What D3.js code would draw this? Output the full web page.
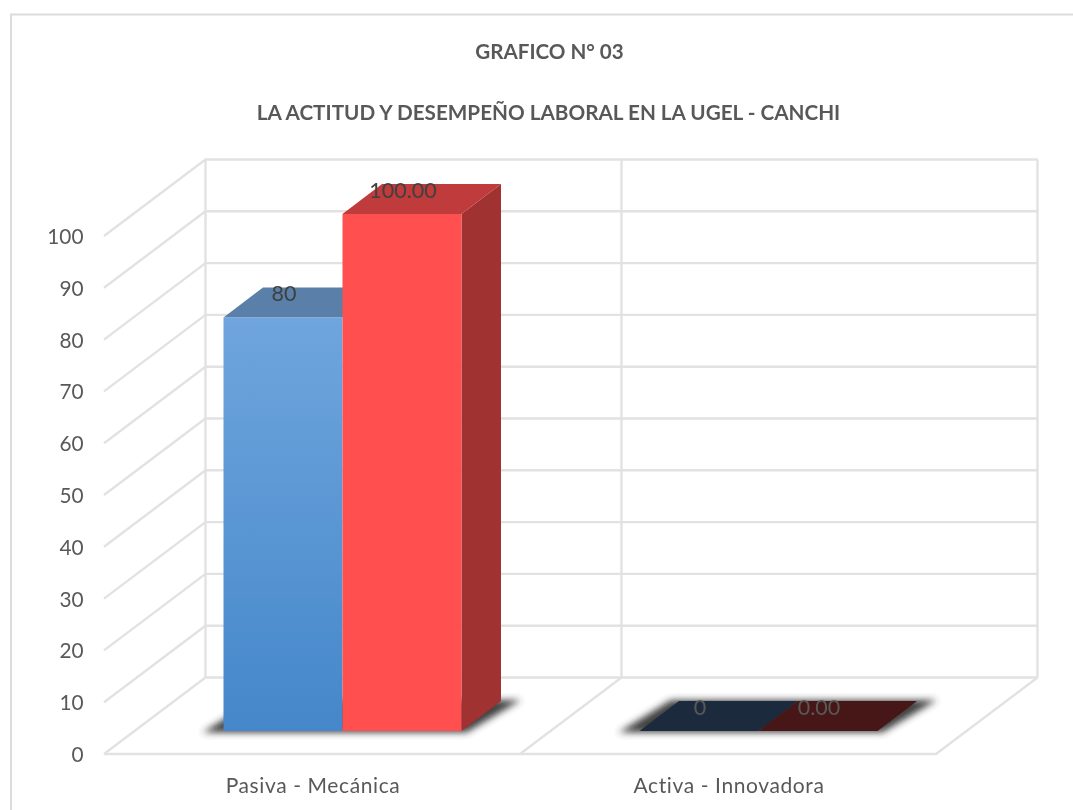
<!DOCTYPE html>
<html><head><meta charset="utf-8">
<script src="https://cdn.jsdelivr.net/npm/d3@7/dist/d3.min.js"></script>
<style>html,body{margin:0;padding:0;background:#fff}svg{display:block}text{font-family:Lato,"Open Sans",sans-serif}</style>
</head><body>
<svg id="c" width="1073" height="810"></svg>
<script>
const titleLines = ["GRAFICO N° 03", "LA ACTITUD Y DESEMPEÑO LABORAL EN LA UGEL - CANCHI"];
const categories = ["Pasiva - Mecánica", "Activa - Innovadora"];
const seriesA = [80, 0];
const seriesB = [100, 0];
const labelsA = ["80", "0"];
const labelsB = ["100.00", "0.00"];
const yTicks = [0,10,20,30,40,50,60,70,80,90,100];

const W = 1073, H = 810;
const svg = d3.select("#c").attr("viewBox", [0,0,W,H]);
const defs = svg.append("defs");
const gBlue = defs.append("linearGradient").attr("id","blueFront").attr("x1",0).attr("y1",0).attr("x2",0).attr("y2",1);
gBlue.append("stop").attr("offset",0).attr("stop-color","#6fa5dd");
gBlue.append("stop").attr("offset",1).attr("stop-color","#4487ca");
const sh = defs.append("filter").attr("id","shadow").attr("x","-20%").attr("y","-100%").attr("width","140%").attr("height","300%");
sh.append("feGaussianBlur").attr("stdDeviation",3.5);
const soft = defs.append("filter").attr("id","soft").attr("x","-5%").attr("y","-5%").attr("width","110%").attr("height","110%");
soft.append("feGaussianBlur").attr("stdDeviation",0.55);

// depth of the floor and of the bars
const wallDX = 101.5, wallDY = -76.5;
const barDX = 39.5, barDY = -30;

// scales
const yFront = d3.scaleLinear().domain([0,100]).range([754,236]);
const yBar = d3.scaleLinear().domain([0,100]).range([731,214]);
const xFront = d3.scaleBand().domain(categories).range([104,936]);
const series = d3.scaleBand().domain([0,1]).range([223.5,461.5]);

const root = svg.append("g").attr("filter","url(#soft)");

// chart border
root.append("path").attr("d","M11,810V14.5H1073").attr("fill","none").attr("stroke","#dcdcdc").attr("stroke-width",2);

// gridlines on walls
const grid = root.append("g").attr("fill","none").attr("stroke","#e2e2e2").attr("stroke-width",2.4);
const line = d3.line();
yTicks.forEach(t=>{
  const y=yFront(t);
  grid.append("path").attr("d",line([[xFront.range()[0],y],[xFront.range()[0]+wallDX,y+wallDY],[xFront.range()[1]+wallDX,y+wallDY]]));
});
// floor front edge and dividers
const edges = [xFront.range()[0], xFront(categories[1]), xFront.range()[1]];
const y0 = yFront(0), y100=yFront(100);
grid.append("path").attr("d",line([[edges[0],y0],[edges[2],y0],[edges[2]+wallDX,y0+wallDY]]));
grid.append("path").attr("d",line([[edges[1],y0],[edges[1]+wallDX,y0+wallDY]]));
edges.forEach(x=>{
  grid.append("path").attr("d",line([[x+wallDX,y0+wallDY],[x+wallDX,y100+wallDY]]));
});

// bars
const cols = [
 {vals:seriesA,labels:labelsA,front:"url(#blueFront)",top:"#5a7fa9",side:"#35618f",zero:"#1a2b3c"},
 {vals:seriesB,labels:labelsB,front:"#ff5050",top:"#c03a3a",side:"#a03030",zero:"#461716"}
];
const bars = root.append("g");
categories.forEach((c,ci)=>{
  const off = xFront(c)-xFront(categories[0]);
  const base = yBar(0);
  const L = series(0)+off, R = series(1)+series.bandwidth()+off;
  // floor shadow
  bars.append("path").attr("filter","url(#shadow)").attr("fill","#333").attr("opacity",0.92)
    .attr("d",line([[L-21,base+1.5],[R+5,base+1.5],[R+barDX+20,base+barDY-1],[L+barDX-8,base+barDY-1]])+"Z");
  cols.forEach((s,si)=>{
    const x0=series(si)+off, x1=x0+series.bandwidth(), v=s.vals[ci], yt=yBar(v);
    if(v===0){
      bars.append("path").attr("fill",s.zero)
        .attr("d",line([[x0,yt],[x1,yt],[x1+barDX,yt+barDY],[x0+barDX,yt+barDY]])+"Z");
      return;
    }
    if(si===1) bars.append("path").attr("fill",s.side)
      .attr("d",line([[x1,yt],[x1+barDX,yt+barDY],[x1+barDX,base+barDY],[x1,base]])+"Z");
    bars.append("path").attr("fill",s.top)
      .attr("d",line([[x0,yt],[x1,yt],[x1+barDX,yt+barDY],[x0+barDX,yt+barDY]])+"Z");
  });
  cols.forEach((s,si)=>{
    const x0=series(si)+off, v=s.vals[ci];
    if(v>0) bars.append("rect").attr("x",x0).attr("y",yBar(v)).attr("width",series.bandwidth()).attr("height",base-yBar(v)).attr("fill",s.front);
  });
});

// data labels
categories.forEach((c,ci)=>{
  const off = xFront(c)-xFront(categories[0]);
  cols.forEach((s,si)=>{
    root.append("text").attr("x",series(si)+off+series.bandwidth()/2+1).attr("y",yBar(s.vals[ci])-16)
      .attr("text-anchor","middle").attr("font-size",21.5).attr("fill",ci===0?"#404040":"#595959").text(s.labels[ci]);
  });
});

// y tick labels
root.append("g").selectAll("text").data(yTicks).join("text")
  .attr("x",83.5).attr("y",d=>yFront(d)+8).attr("text-anchor","end").attr("font-size",20.8).attr("fill","#595959").text(d=>d);

// category labels
root.append("g").selectAll("text").data(categories).join("text")
  .attr("x",d=>xFront(d)+xFront.bandwidth()/2+1).attr("y",793).attr("text-anchor","middle")
  .attr("font-size",21).attr("letter-spacing",0.6).attr("fill","#595959").text(d=>d);

// titles
root.append("text").attr("x",549.5).attr("y",59).attr("text-anchor","middle").attr("font-size",20.6).attr("font-weight",700).attr("fill","#595959").text(titleLines[0]);
root.append("text").attr("x",548.5).attr("y",120).attr("text-anchor","middle").attr("font-size",20.7).attr("font-weight",700).attr("fill","#595959").text(titleLines[1]);
</script>
</body></html>
